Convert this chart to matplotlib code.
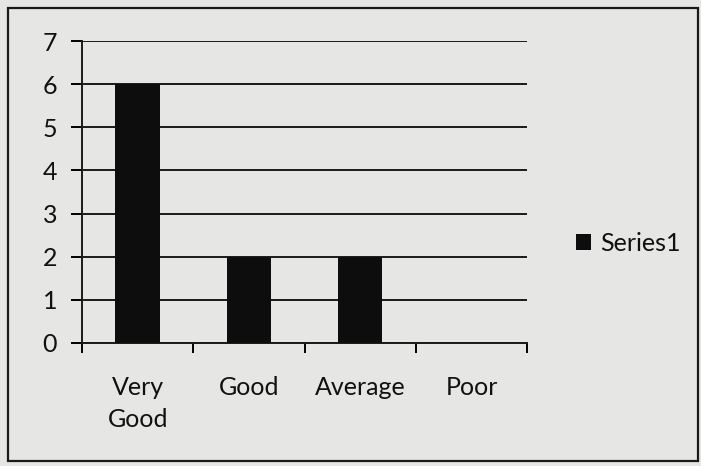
import matplotlib.pyplot as plt
from matplotlib.patches import Rectangle

categories = ["Very\nGood", "Good", "Average", "Poor"]
values = [6, 2, 2, 0]
series_name = "Series1"

bg = "#e6e6e4"
plt.rcParams["font.family"] = ["Lato", "DejaVu Sans"]

fig = plt.figure(figsize=(7.01, 4.66), dpi=100, facecolor=bg)
ax = fig.add_axes([0.117, 0.264, 0.635, 0.648], facecolor=bg)

x = list(range(len(categories)))
ax.bar(x, values, width=0.4, color="#0d0d0d", label=series_name, zorder=3)

ax.set_ylim(0, 7)
ax.set_xlim(-0.5, len(categories) - 0.5)
ax.set_yticks(range(0, 8))
ax.yaxis.grid(True, color="#1a1a1a", linewidth=1.4, zorder=0)

# category boundaries carry the tick marks, centers carry the labels
ax.set_xticks([i - 0.5 for i in range(len(categories) + 1)])
ax.set_xticklabels([])
ax.set_xticks(x, minor=True)
ax.set_xticklabels(categories, minor=True, fontsize=18, linespacing=1.45,
                   color="#111111")
ax.tick_params(axis="x", which="minor", length=0, pad=24)
ax.tick_params(axis="x", which="major", length=7, width=1.4, direction="out")
ax.tick_params(axis="y", length=8, width=1.4, labelsize=18, labelcolor="#111111", pad=10)

for side in ["top", "right"]:
    ax.spines[side].set_visible(False)
for side in ["left", "bottom"]:
    ax.spines[side].set_linewidth(1.4)
    ax.spines[side].set_color("#1a1a1a")

fig.legend(loc="center left", bbox_to_anchor=(0.79, 0.478), frameon=False,
           fontsize=18, labelcolor="#111111", handlelength=0.6, handleheight=0.6,
           handletextpad=0.35)

fig.patches.append(Rectangle((0.012, 0.01), 0.984, 0.972, transform=fig.transFigure,
                             fill=False, edgecolor="#1a1a1a", linewidth=1.6))

fig.savefig("out.png", dpi=100, facecolor=bg)
